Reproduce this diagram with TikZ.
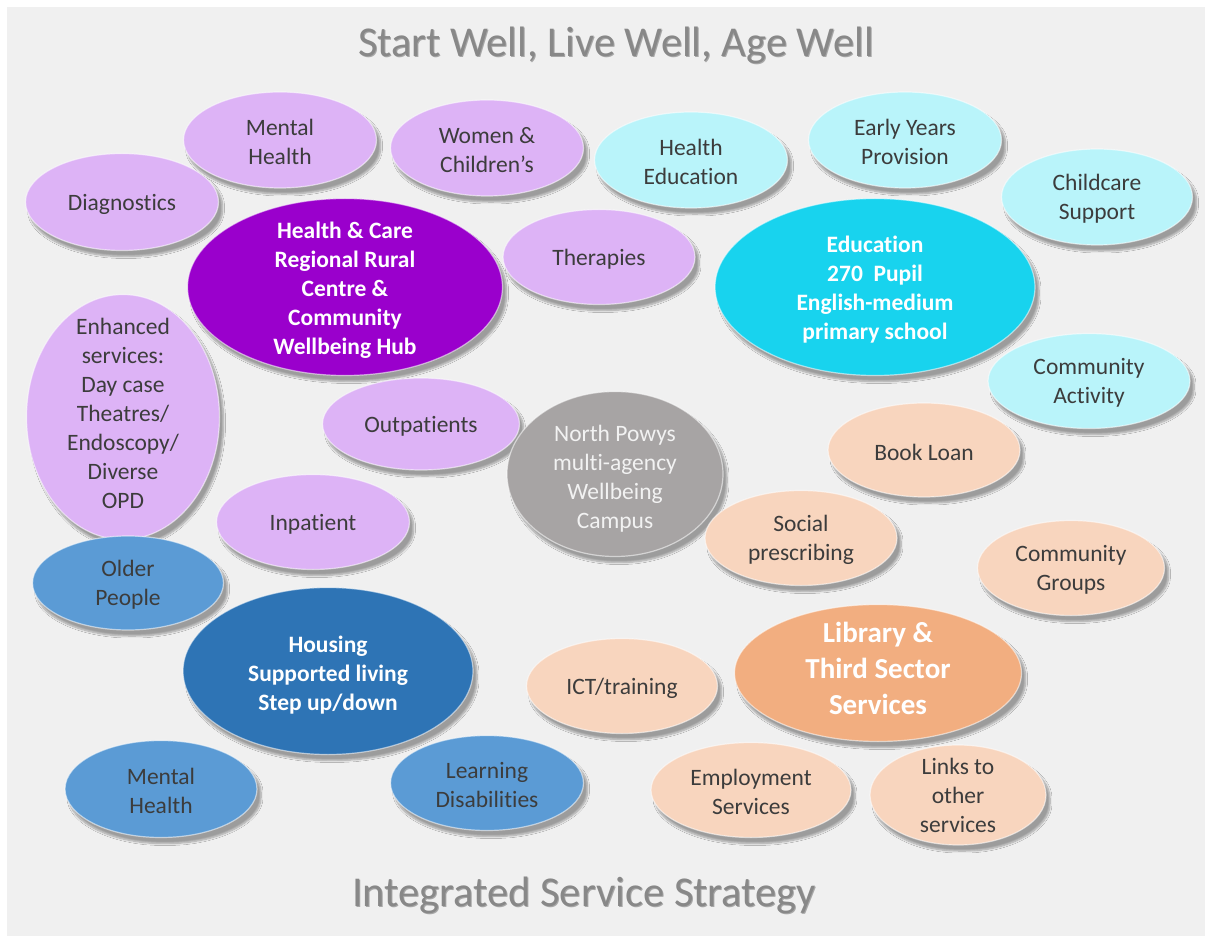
\documentclass[tikz,border=0pt]{standalone}
\usepackage{fontspec}
\setmainfont{Carlito}[RawFeature={-liga;-clig;-dlig;-calt}]
\usetikzlibrary{shapes.geometric,shadows.blur}
\definecolor{bgcol}{HTML}{F0F0F0}
\definecolor{lpurple}{HTML}{DDB3F6}
\definecolor{dpurple}{HTML}{9A00CC}
\definecolor{lcyan}{HTML}{B9F4FA}
\definecolor{dcyan}{HTML}{18D3EE}
\definecolor{campus}{HTML}{A7A4A4}
\definecolor{lblue}{HTML}{5B9BD5}
\definecolor{dblue}{HTML}{2E74B5}
\definecolor{lpeach}{HTML}{F8D5BE}
\definecolor{dpeach}{HTML}{F2AE80}
\definecolor{txtdark}{HTML}{3C3C3C}
\definecolor{titlegray}{HTML}{888888}
\definecolor{titleshade}{HTML}{505050}
\tikzset{
  bub/.style={ellipse, inner sep=0pt, draw=white, draw opacity=0.55, line width=1.2pt,
    blur shadow={shadow xshift=4pt, shadow yshift=-6pt, shadow blur steps=8, shadow blur extra rounding=3pt, shadow opacity=35}},
  smalltxt/.style={align=center, text=txtdark, inner sep=0pt, yshift=-2pt, font=\fontsize{23.5}{29}\selectfont},
  bigtxt/.style={align=center, text=white, inner sep=0pt, yshift=-3pt, font=\fontsize{23.5}{29}\selectfont\bfseries},
  hugetxt/.style={align=center, text=white, inner sep=0pt, yshift=5pt, font=\fontsize{29}{36}\selectfont\bfseries},
  campustxt/.style={align=center, text=white!95!black, inner sep=0pt, yshift=-5pt, font=\fontsize{23.5}{29}\selectfont},
  titletxt/.style={text=titlegray, inner sep=0pt, font=\fontsize{42.5}{50}\selectfont},
  titleshadow/.style={text=titleshade, text opacity=0.45, inner sep=0pt, font=\fontsize{42.5}{50}\selectfont}
}
\newcommand\bubble[8]{%
  \node[bub, fill=#6, minimum width=#4pt, minimum height=#5pt] (#1) at (#2,#3) {};
  \node[#7] (#1t) at (#1.center) {#8};}
\begin{document}
\begin{tikzpicture}[x=1pt,y=-1pt]
\useasboundingbox (0,0) rectangle (1205,936);
\fill[white] (0,0) rectangle (1205,936);
\fill[bgcol] (7,7) rectangle (1205,936);
\node[titleshadow] (titleS) at (617,46) {Start Well, Live Well, Age Well};
\node[titletxt] (title) at (616,45) {Start Well, Live Well, Age Well};
\node[titleshadow] (subtitleS) at (585,896) {Integrated Service Strategy};
\node[titletxt] (subtitle) at (584,895) {Integrated Service Strategy};
% purple group
\bubble{mh1}{280}{140}{193}{96}{lpurple}{smalltxt}{Mental\\Health}
\bubble{wc}{487}{148}{193}{96}{lpurple}{smalltxt}{Women \&\\Children’s}
\bubble{dg}{122}{202}{193}{97}{lpurple}{smalltxt}{Diagnostics}
\bubble{th}{599}{257}{192}{95}{lpurple}{smalltxt}{Therapies}
\bubble{hc}{345}{287}{315}{177}{dpurple}{bigtxt}{Health \& Care\\Regional Rural\\Centre \&\\Community\\Wellbeing Hub}
\bubble{en}{123}{417}{193}{245}{lpurple}{smalltxt,yshift=6pt}{Enhanced\\services:\\Day case\\Theatres/\\Endoscopy/\\Diverse\\OPD}
\bubble{op}{421}{424}{197}{92}{lpurple}{smalltxt}{Outpatients}
\bubble{ip}{313}{522}{193}{95}{lpurple}{smalltxt}{Inpatient}
% cyan group
\bubble{he}{691}{160}{193}{96}{lcyan}{smalltxt}{Health\\Education}
\bubble{ey}{905}{140}{193}{96}{lcyan}{smalltxt}{Early Years\\Provision}
\bubble{cs}{1097}{197}{191}{96}{lcyan}{smalltxt}{Childcare\\Support}
\bubble{ed}{875}{287}{320}{177}{dcyan}{bigtxt}{Education\\270\ \ Pupil\\English-medium\\primary school}
\bubble{ca}{1089}{381}{202}{95}{lcyan}{smalltxt}{Community\\Activity}
% campus
\bubble{np}{615}{474}{216}{165}{campus}{campustxt}{North Powys\\multi-agency\\Wellbeing\\Campus}
% peach group
\bubble{bl}{924}{450}{192}{94}{lpeach}{smalltxt}{Book Loan}
\bubble{sp}{801}{538}{192}{95}{lpeach}{smalltxt}{Social\\prescribing}
\bubble{cg}{1071}{568}{187}{95}{lpeach}{smalltxt}{Community\\Groups}
\bubble{lib}{878}{673}{287}{137}{dpeach}{hugetxt}{Library \&\\Third Sector\\Services}
\bubble{ict}{622}{686}{191}{95}{lpeach}{smalltxt}{ICT/training}
\bubble{es}{751}{790}{200}{95}{lpeach}{smalltxt}{Employment\\Services}
\bubble{lk}{958}{795}{176}{100}{lpeach}{smalltxt,yshift=2pt}{Links to\\other\\services}
% blue group
\bubble{old}{128}{583}{191}{94}{lblue}{smalltxt}{Older\\People}
\bubble{hs}{328}{671}{290}{167}{dblue}{bigtxt,yshift=-1pt}{Housing\\Supported living\\Step up/down}
\bubble{mh2}{161}{789}{192}{97}{lblue}{smalltxt}{Mental\\Health}
\bubble{ld}{487}{783}{193}{95}{lblue}{smalltxt}{Learning\\Disabilities}
\end{tikzpicture}
\end{document}
